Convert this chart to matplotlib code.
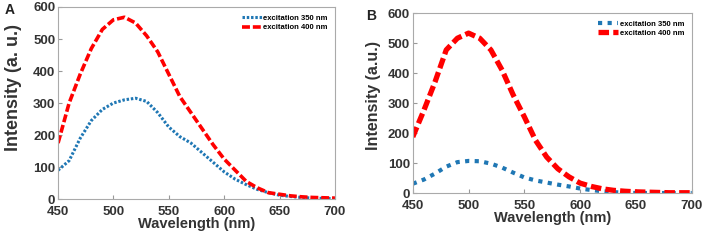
import matplotlib
matplotlib.use("Agg")
import matplotlib.pyplot as plt

plt.rcParams['font.family'] = ['Liberation Sans', 'DejaVu Sans']
plt.rcParams['font.weight'] = 'bold'

wl = list(range(450, 701, 10))

a_350 = [90, 120, 190, 245, 280, 300, 310, 315, 305, 270, 225, 195, 175, 145, 115,
         85, 62, 45, 30, 20, 12, 8, 5, 3, 2, 1]
a_400 = [175, 300, 390, 470, 530, 560, 568, 550, 510, 460, 390, 320, 270, 220, 170,
         125, 90, 55, 35, 20, 15, 10, 7, 5, 4, 3]

b_350 = [31, 45, 65, 88, 103, 107, 106, 98, 85, 68, 52, 42, 35, 28, 22,
         15, 10, 6, 3, 1, 0, 0, 0, 0, 0, 0]
b_400 = [187, 276, 371, 477, 516, 533, 516, 477, 410, 327, 254, 176, 120, 81, 54,
         33, 22, 14, 9, 6, 4, 3, 2, 1, 1, 1]

xticks = [450, 500, 550, 600, 650, 700]
yticks = [0, 100, 200, 300, 400, 500, 600]

blue = '#1f77b4'
red = '#ff0000'

fig = plt.figure(figsize=(7.08, 2.41), dpi=100)
axA = fig.add_axes([0.082, 0.174, 0.391, 0.797])
axB = fig.add_axes([0.583, 0.199, 0.394, 0.747])

def style(ax, ylabel, ysize, ycoords):
    ax.set_xlim(450, 700)
    ax.set_ylim(0, 600)
    ax.set_xticks(xticks)
    ax.set_yticks(yticks)
    ax.tick_params(direction='in', length=3, color='#999999', labelsize=9.5,
                   labelcolor='#333333')
    ax.tick_params(axis='x', pad=5)
    ax.tick_params(axis='y', pad=2)
    for s in ax.spines.values():
        s.set_color('#aaaaaa')
        s.set_linewidth(0.8)
    for lab in ax.get_xticklabels() + ax.get_yticklabels():
        lab.set_fontweight('bold')
    ax.set_xlabel('Wavelength (nm)', fontsize=10.5, fontweight='bold', color='#333333', labelpad=-1)
    ax.set_ylabel(ylabel, fontsize=ysize, fontweight='bold', color='#333333')
    ax.yaxis.set_label_coords(*ycoords)

axA.plot(wl, a_350, color=blue, lw=2.2, linestyle=(0, (0.8, 0.6)), label='excitation 350 nm')
axA.plot(wl, a_400, color=red, lw=2.6, linestyle=(0, (2.2, 0.8)), label='excitation 400 nm')
style(axA, 'Intensity (a. u.)', 13, (-0.13, 0.58))
axA.legend(loc='upper right', frameon=False, fontsize=5.5, handlelength=2.6,
           handletextpad=0.1, borderaxespad=0.6, labelspacing=0.25)

axB.plot(wl, b_350, color=blue, lw=3.0, linestyle=(0, (1, 1.3)), label='excitation 350 nm')
axB.plot(wl, b_400, color=red, lw=3.8, linestyle=(0, (2, 0.8)), label='excitation 400 nm')
style(axB, 'Intensity (a.u.)', 11.5, (-0.115, 0.544))
axB.legend(loc='upper right', frameon=False, fontsize=5.5, handlelength=2.6,
           handletextpad=0.3, borderaxespad=0.55, labelspacing=0.25)

fig.text(0.006, 0.94, 'A', fontsize=10, fontweight='bold', color='#222222')
fig.text(0.517, 0.915, 'B', fontsize=10, fontweight='bold', color='#222222')

fig.savefig('out.png', dpi=100)
